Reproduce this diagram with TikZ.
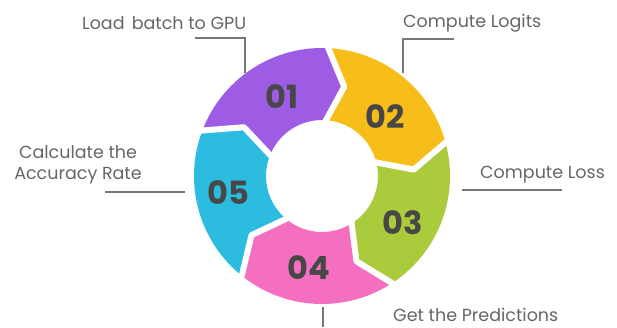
\documentclass[tikz,border=0pt]{standalone}
\usepackage{fontspec}
\setmainfont{Poppins}
\usepackage{xcolor}
\usepackage{tikz}
\usetikzlibrary{positioning, calc}

\definecolor{segpurple}{HTML}{9D5CE3}
\definecolor{segyellow}{HTML}{F7BE1A}
\definecolor{seggreen}{HTML}{AACB3C}
\definecolor{segpink}{HTML}{F46FBF}
\definecolor{segcyan}{HTML}{2BBCDF}
\definecolor{numgray}{HTML}{474747}
\definecolor{txtgray}{HTML}{666666}
\definecolor{leadgray}{HTML}{777777}

\begin{document}
\begin{tikzpicture}[
    x=1pt, y=1pt,
    num/.style={font=\fontsize{32}{32}\selectfont\bfseries, text=numgray, inner sep=0pt},
    label/.style={font=\fontsize{17.5}{21}\selectfont, text=txtgray, inner sep=0pt},
    leader/.style={draw=leadgray, line width=1.6pt},
    gapline/.style={draw=white, line width=6pt, line join=round}
]
\useasboundingbox (0,0) rectangle (617,327);

% Ring of arrow segments
\begin{scope}[shift={(322,151)}]
\def\ro{128}\def\ri{56}\def\rm{92}\def\d{12}
\foreach \a/\b/\col in {160/88/segpurple, 88/16/segyellow, 16/-56/seggreen, -56/-128/segpink, -128/-200/segcyan}
    \fill[\col] (\a:\ro) arc[start angle=\a, end angle=\b, radius=\ro] -- (\b-\d:\rm) -- (\b:\ri)
        arc[start angle=\b, end angle=\a, radius=\ri] -- (\a-\d:\rm) -- cycle;
% white gaps between the segments
\foreach \g in {160, 88, 16, -56, -128}
    \draw[gapline] (\g:\ro+4) -- (\g-\d:\rm) -- (\g:\ri-4);
\end{scope}

% Step numbers
\node[num] (n01) at (282,230) {01};
\node[num] (n02) at (385,210) {02};
\node[num] (n03) at (403,104) {03};
\node[num] (n04) at (309,59) {04};
\node[num] (n05) at (228,134) {05};

% Labels
\node[label, anchor=west] (load) at (82,304) {Load\hspace{2.5pt} batch to GPU};
\node[label, anchor=west] (logits) at (403,304) {Compute Logits};
\node[label, anchor=west] (loss) at (480,152) {Compute Loss};
\node[label, anchor=base west] (pred) at (393,6) {Get the Predictions};
\node[label, align=center] (acc) at (78,162) {Calculate the\\Accuracy Rate};

% Leader lines
\coordinate (load-a) at (195,289);
\coordinate (load-b) at (245,254);
\coordinate (logits-a) at (454,288);
\coordinate (logits-b) at (403,254);
\coordinate (loss-a) at (462,137);
\coordinate (loss-b) at (562,137);
\coordinate (acc-a) at (105,135);
\coordinate (acc-b) at (185,135);
\coordinate (pred-a) at (323,20);
\coordinate (pred-b) at (323,0);
\draw[leader] (load-a) -| (load-b);
\draw[leader] (logits-a) -| (logits-b);
\draw[leader] (loss-a) -- (loss-b);
\draw[leader] (acc-a) -- (acc-b);
\draw[leader] (pred-a) -- (pred-b);

\end{tikzpicture}
\end{document}
